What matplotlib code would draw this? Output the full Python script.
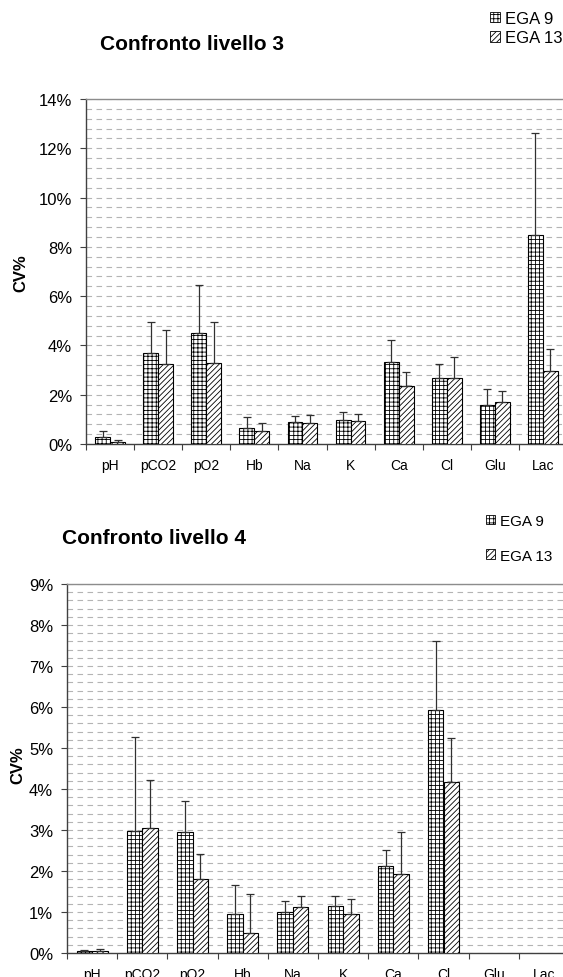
import matplotlib
matplotlib.use("Agg")
import matplotlib.pyplot as plt
import numpy as np
from matplotlib.patches import Patch
from matplotlib.ticker import MultipleLocator, FixedLocator

plt.rcParams['font.family'] = ['Liberation Sans', 'DejaVu Sans']
plt.rcParams['hatch.linewidth'] = 0.6

categories = ["pH", "pCO2", "pO2", "Hb", "Na", "K", "Ca", "Cl", "Glu", "Lac"]
series_names = ["EGA 9", "EGA 13"]

# livello 3 (CV% and upper end of error bar)
l3_ega9 = [0.30, 3.69, 4.51, 0.65, 0.89, 0.98, 3.34, 2.67, 1.59, 8.48]
l3_ega9_top = [0.51, 4.94, 6.45, 1.08, 1.12, 1.28, 4.24, 3.26, 2.22, 12.62]
l3_ega13 = [0.09, 3.26, 3.30, 0.51, 0.86, 0.94, 2.36, 2.67, 1.72, 2.96]
l3_ega13_top = [0.16, 4.61, 4.94, 0.86, 1.17, 1.20, 2.91, 3.52, 2.17, 3.87]
l3_yticks = [0, 2, 4, 6, 8, 10, 12, 14]

# livello 4 (Glu, Lac missing)
l4_ega9 = [0.06, 2.98, 2.95, 0.96, 0.99, 1.14, 2.12, 5.93, np.nan, np.nan]
l4_ega9_top = [0.08, 5.26, 3.70, 1.67, 1.27, 1.38, 2.51, 7.62, np.nan, np.nan]
l4_ega13 = [0.06, 3.05, 1.80, 0.49, 1.11, 0.96, 1.92, 4.17, np.nan, np.nan]
l4_ega13_top = [0.09, 4.23, 2.41, 1.45, 1.40, 1.32, 2.94, 5.25, np.nan, np.nan]
l4_yticks = [0, 1, 2, 3, 4, 5, 6, 7, 8, 9]

hatches = ['++++', '//////']
W, H = 563, 978


def draw_panel(ax, s9, s9_top, s13, s13_top, yticks, minor_step):
    x = np.arange(len(categories))
    w = 0.31
    for off, vals, tops, hatch in [(-w / 2, s9, s9_top, hatches[0]),
                                   (w / 2, s13, s13_top, hatches[1])]:
        vals = np.array(vals, dtype=float)
        tops = np.array(tops, dtype=float)
        ax.bar(x + off, vals, w, color='white', edgecolor='black',
               hatch=hatch, linewidth=0.8, zorder=3)
        ax.errorbar(x + off, vals, yerr=[np.zeros_like(vals), tops - vals],
                    fmt='none', ecolor='#303030', elinewidth=0.9,
                    capsize=3, capthick=0.9, zorder=4)
    ax.set_xlim(-0.5, len(categories) - 0.5)
    ax.set_ylim(yticks[0], yticks[-1])
    ax.set_yticks(yticks)
    ax.set_yticklabels([f"{t}%" for t in yticks], fontsize=12)
    ax.yaxis.set_minor_locator(MultipleLocator(minor_step))
    ax.grid(axis='y', which='both', linestyle=(0, (5, 4)), color='#b4b4b4',
            linewidth=0.8, zorder=0)
    ax.tick_params(axis='y', which='minor', length=0)
    ax.tick_params(axis='y', which='major', length=4, width=0.8,
                   color='#404040', pad=6)
    # x: tick marks at group boundaries, labels at centers
    ax.xaxis.set_major_locator(FixedLocator(np.arange(len(categories) + 1) - 0.5))
    ax.xaxis.set_minor_locator(FixedLocator(x))
    ax.set_xticklabels([], minor=False)
    ax.set_xticklabels(categories, minor=True, fontsize=10)
    ax.tick_params(axis='x', which='major', length=4, width=0.8,
                   color='#404040', direction='out')
    ax.tick_params(axis='x', which='minor', length=0, pad=10)
    for side in ['left', 'bottom']:
        ax.spines[side].set_color('#404040')
        ax.spines[side].set_linewidth(1.0)
    ax.spines['top'].set_color('#8c8c8c')
    ax.spines['top'].set_linewidth(1.0)
    ax.spines['right'].set_visible(False)
    ax.set_axisbelow(True)


fig = plt.figure(figsize=(W / 100, H / 100), dpi=100)

ax1 = fig.add_axes([86 / W, 1 - 445 / H, 481 / W, 345 / H])
draw_panel(ax1, l3_ega9, l3_ega9_top, l3_ega13, l3_ega13_top, l3_yticks, 0.4)

ax2 = fig.add_axes([67 / W, 1 - 954 / H, 502 / W, 369 / H])
draw_panel(ax2, l4_ega9, l4_ega9_top, l4_ega13, l4_ega13_top, l4_yticks, 0.2)

fig.text(100 / W, 1 - 45 / H, "Confronto livello 3", fontsize=15,
         fontweight='bold', ha='left', va='center')
fig.text(62 / W, 1 - 539 / H, "Confronto livello 4", fontsize=15,
         fontweight='bold', ha='left', va='center')
fig.text(21 / W, 1 - 273 / H, "CV%", fontsize=12, fontweight='bold',
         rotation=90, ha='center', va='center')
fig.text(18 / W, 1 - 765 / H, "CV%", fontsize=12, fontweight='bold',
         rotation=90, ha='center', va='center')

handles = [Patch(facecolor='white', edgecolor='black', hatch=h, linewidth=0.6)
           for h in hatches]
fig.legend(handles, series_names, loc='upper left',
           bbox_to_anchor=(490 / W, 1 - 12 / H), frameon=False, fontsize=12,
           handlelength=0.6, handleheight=0.6, handletextpad=0.3,
           labelspacing=0.25, borderpad=0, borderaxespad=0)
fig.legend(handles, series_names, loc='upper left',
           bbox_to_anchor=(486 / W, 1 - 515 / H), frameon=False, fontsize=11,
           handlelength=0.6, handleheight=0.6, handletextpad=0.3,
           labelspacing=1.35, borderpad=0, borderaxespad=0)

fig.savefig("out.png", dpi=100)
